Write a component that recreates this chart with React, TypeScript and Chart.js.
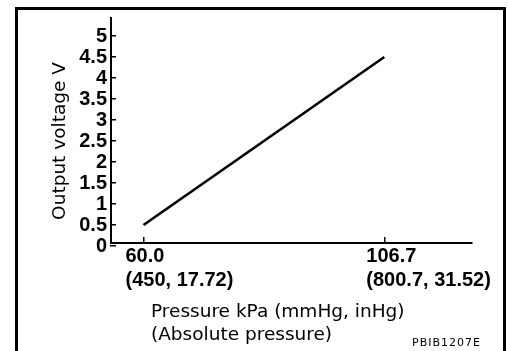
import React, { useEffect, useRef } from "react";
import { Chart, registerables } from "chart.js";

Chart.register(...registerables);

// ---- data ----
const pressureKPa = [60.0, 106.7];
const outputVoltage = [0.5, 4.5];
const xTickValues = [60.0, 106.7];
const xTickLabels = [
  ["60.0", "(450, 17.72)"],
  ["106.7", "(800.7, 31.52)"],
];
const yTickValues = [0, 0.5, 1, 1.5, 2, 2.5, 3, 3.5, 4, 4.5, 5];
const yTickLabels = ["0", "0.5", "1", "1.5", "2", "2.5", "3", "3.5", "4", "4.5", "5"];
const yTitle = "Output voltage V";
const xTitleLines = ["Pressure kPa (mmHg, inHg)", "(Absolute pressure)"];
const figureCode = "PBIB1207E";

const TICK_FONT = "'Liberation Sans', Arial, Helvetica, sans-serif";
const TITLE_FONT = "'DejaVu Sans', sans-serif";

const decorPlugin = {
  id: "decor",
  beforeDraw(chart: any) {
    const ctx = chart.ctx;
    ctx.save();
    ctx.fillStyle = "#ffffff";
    ctx.fillRect(0, 0, chart.width, chart.height);
    ctx.restore();
  },
  afterDraw(chart: any) {
    const { ctx, chartArea } = chart;
    ctx.save();
    ctx.fillStyle = "#000000";
    // frame (open at the bottom)
    ctx.fillRect(15, 7, 3, chart.height - 7);
    ctx.fillRect(15, 7, 491, 3);
    ctx.fillRect(503, 7, 3, chart.height - 7);

    // y-axis title
    ctx.save();
    ctx.font = `18.5px ${TITLE_FONT}`;
    ctx.textAlign = "center";
    ctx.textBaseline = "middle";
    ctx.translate(chartArea.left - 51.3, chartArea.top + 123);
    ctx.rotate(-Math.PI / 2);
    ctx.fillText(yTitle, 0, 0);
    ctx.restore();

    // x-axis title (two left-aligned lines)
    ctx.font = `18.5px ${TITLE_FONT}`;
    ctx.textAlign = "left";
    ctx.textBaseline = "alphabetic";
    ctx.fillText(xTitleLines[0], chartArea.left + 40, chartArea.bottom + 73.7);
    ctx.fillText(xTitleLines[1], chartArea.left + 40, chartArea.bottom + 97);

    // figure code
    ctx.font = `11px ${TITLE_FONT}`;
    try {
      (ctx as any).letterSpacing = "1px";
    } catch (e) {}
    ctx.fillText(figureCode, chartArea.right - 60, chartArea.bottom + 102.7);
    ctx.restore();
  },
};

export default function App() {
  const canvasRef = useRef<HTMLCanvasElement | null>(null);

  useEffect(() => {
    const canvas = canvasRef.current;
    if (!canvas) return;
    const chart = new Chart(canvas, {
      type: "line",
      data: {
        datasets: [
          {
            data: pressureKPa.map((x, i) => ({ x, y: outputVoltage[i] })),
            borderColor: "#000000",
            borderWidth: 2.6,
            pointRadius: 0,
            fill: false,
            tension: 0,
          },
        ],
      },
      options: {
        responsive: false,
        animation: false,
        devicePixelRatio: 1,
        events: [],
        layout: { padding: { top: 18, right: 36, left: 0, bottom: 0 } },
        plugins: {
          legend: { display: false },
          tooltip: { enabled: false },
          title: { display: false },
        },
        scales: {
          x: {
            type: "linear",
            position: "bottom",
            min: 53.7,
            max: 123.7,
            bounds: "data",
            afterFit: (scale: any) => {
              scale.height = 108;
              scale.paddingLeft = 0;
              scale.paddingRight = 0;
            },
            afterBuildTicks: (scale: any) => {
              scale.ticks = xTickValues.map((v) => ({ value: v }));
            },
            border: { display: true, color: "#000000", width: 2 },
            grid: {
              drawOnChartArea: false,
              drawTicks: true,
              tickLength: -6,
              color: "#000000",
              lineWidth: 1.5,
            },
            ticks: {
              autoSkip: false,
              minRotation: 0,
              maxRotation: 0,
              align: "start",
              labelOffset: -18,
              padding: 7,
              color: "#000000",
              font: { family: TICK_FONT, size: 20, weight: "bold", lineHeight: 1.2 },
              callback: (value: any, index: number) => xTickLabels[index],
            },
          },
          y: {
            type: "linear",
            position: "left",
            min: 0.0714,
            max: 5.43,
            bounds: "data",
            afterFit: (scale: any) => {
              scale.width = 111;
              scale.paddingTop = 0;
              scale.paddingBottom = 0;
            },
            afterBuildTicks: (scale: any) => {
              scale.ticks = yTickValues.map((v) => ({ value: v }));
            },
            border: { display: true, color: "#000000", width: 2 },
            grid: {
              drawOnChartArea: false,
              drawTicks: true,
              tickLength: -5,
              color: "#000000",
              lineWidth: 1.5,
            },
            ticks: {
              autoSkip: false,
              padding: 9,
              color: "#000000",
              font: { family: TICK_FONT, size: 20, weight: "bold", lineHeight: 1.2 },
              callback: (value: any, index: number) => yTickLabels[index],
            },
          },
        },
      },
      plugins: [decorPlugin],
    } as any);
    return () => chart.destroy();
  }, []);

  return (
    <div style={{ position: "fixed", left: 0, top: 0, width: 508, height: 351, background: "#fff" }}>
      <canvas ref={canvasRef} width={508} height={351} style={{ display: "block" }} />
    </div>
  );
}
